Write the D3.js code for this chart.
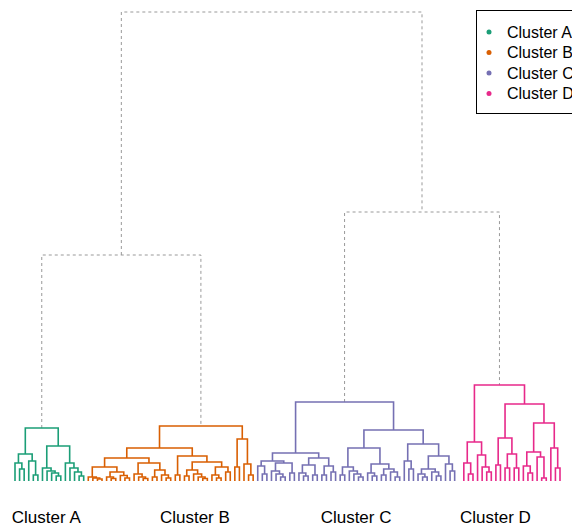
<!DOCTYPE html>
<html>
<head>
<meta charset="utf-8">
<script src="https://cdn.jsdelivr.net/npm/d3@7"></script>
<style>
  html, body { margin: 0; padding: 0; background: #fff; }
  svg { display: block; }
  text { font-family: "Liberation Sans", Arial, sans-serif; }
</style>
</head>
<body>
<svg id="chart" width="572" height="527"></svg>
<script>
// Cluster names and their colours (ColorBrewer Dark2)
const clusterNames = ["Cluster A", "Cluster B", "Cluster C", "Cluster D"];
const clusterColors = ["#1b9e77", "#d95f02", "#7570b3", "#e7298a"];

// Sub-trees of each cluster: [mergeHeight, left, right]; 0 is a leaf.
const clusterA = [5.3,
  [2.7, [1.8, 0, [1.2, 0, 0]], [2.0, 0, [0.6, 0, 0]]],
  [3.5, [1.3, 0, [1.0, 0, [0.8, 0, [0.5, 0, 0]]]],
        [1.8, 0, [1.3, 0, [0.9, 0, [0.5, 0, 0]]]]]];

const clusterB = [5.5,
  [3.3,
    [2.3,
      [1.4, [0.4, 0, [0.3, 0, [0.2, 0, 0]]],
            [0.9, [0.4, 0, [0.25, 0, 0]], [0.55, 0, [0.3, 0, 0]]]],
      [1.8, [0.7, 0, [0.4, 0, [0.25, 0, 0]]],
            [1.1, [0.4, 0, 0], [0.6, 0, [0.3, 0, 0]]]]],
    [2.5,
      [0.6, 0, 0],
      [1.9, [1.1, [0.5, 0, 0], [0.7, 0, [0.4, 0, [0.25, 0, 0]]]],
            [1.4, [0.6, 0, [0.3, 0, 0]], [0.9, 0, 0]]]]],
  [4.2, [1.4, 0, 0], [1.7, 0, [0.6, 0, 0]]]];

const clusterC = [7.9,
  [2.8,
    [2.0, [1.5, 0, [0.7, 0, 0]],
          [1.8, [1.0, 0, [0.7, 0, [0.4, 0, 0]]], [0.8, 0, 0]]],
    [2.3, [1.6, [0.8, 0, [0.5, 0, 0]], [0.6, 0, 0]],
          [1.5, [0.6, 0, 0], [0.9, 0, 0]]]],
  [5.1,
    [3.3, [1.4, [0.6, 0, 0], [1.0, 0, [0.7, 0, [0.4, 0, 0]]]],
          [1.7, [0.8, 0, [0.5, 0, 0]], [1.2, [0.6, 0, 0], [0.9, 0, [0.4, 0, 0]]]]],
    [3.7, [2.0, 0, [1.2, 0, 0]],
          [2.5, [1.2, [0.7, 0, [0.4, 0, 0]], [0.9, 0, [0.5, 0, 0]]],
                [1.7, 0, [1.0, 0, 0]]]]]];

const clusterD = [9.6,
  [3.9, [1.8, 0, [0.7, 0, 0]], [2.6, 0, [1.4, 0, [0.9, 0, 0]]]],
  [7.7,
    [4.3, [1.6, 0, 0], [2.7, [1.3, 0, 0], [1.3, 0, 0]]],
    [5.8, [2.9, [1.5, 0, [0.8, 0, 0]], [2.4, 0, [0.3, 0, 0]]],
          [3.3, 0, [1.3, 0, 0]]]]];

// Heights where the clusters join: A+B, C+D, and the top merge
const joinHeights = [22.6, 26.9, 46.9];

const clusterTrees = [clusterA, clusterB, clusterC, clusterD];

// Horizontal nudge of each cluster caption relative to its cluster's root
const labelShift = [4.5, -6, 11.5, -4];

// ---- build the hierarchy ----
function toNode(t, cluster) {
  if (t === 0) return { h: 0, cluster };
  return { h: t[0], cluster, children: [toNode(t[1], cluster), toNode(t[2], cluster)] };
}
const clusterRoots = clusterTrees.map((t, i) => toNode(t, i));
const treeData = {
  h: joinHeights[2], cluster: -1, children: [
    { h: joinHeights[0], cluster: -1, children: [clusterRoots[0], clusterRoots[1]] },
    { h: joinHeights[1], cluster: -1, children: [clusterRoots[2], clusterRoots[3]] }
  ]
};

const svg = d3.select("#chart");
const root = d3.hierarchy(treeData);

// leaf order and horizontal placement from d3.cluster (parents sit at the mean of their children);
// a wider step separates the later clusters
d3.cluster()
  .size([1, 1])
  .separation((a, b) => (a.data.cluster !== b.data.cluster && b.data.cluster >= 2) ? 2 : 1)(root);

const x = d3.scaleLinear().domain(d3.extent(root.leaves(), d => d.x)).range([15, 560]);
const y = d3.scaleLinear().domain([0, joinHeights[2]]).range([481, 12]);
root.each(d => {
  d.px = x(d.x);
  d.py = y(d.data.h);
});

// ---- elbow links ----
const inner = root.descendants().filter(d => d.children);
const elbow = d => {
  const [a, b] = d.children;
  return `M${a.px},${a.py}V${d.py}H${b.px}V${b.py}`;
};

svg.append("g")
  .selectAll("path")
  .data(inner.filter(d => d.data.cluster < 0))
  .join("path")
  .attr("d", elbow)
  .attr("fill", "none")
  .attr("stroke", "#999")
  .attr("stroke-width", 1)
  .attr("stroke-dasharray", "3,3");

svg.append("g")
  .selectAll("path")
  .data(inner.filter(d => d.data.cluster >= 0))
  .join("path")
  .attr("d", elbow)
  .attr("fill", "none")
  .attr("stroke", d => clusterColors[d.data.cluster])
  .attr("stroke-width", 1.6);

// ---- cluster labels under the leaves ----
svg.append("g")
  .selectAll("text")
  .data(root.children.flatMap(g => g.children))
  .join("text")
  .attr("x", d => d.px + labelShift[d.data.cluster])
  .attr("y", 523)
  .attr("text-anchor", "middle")
  .attr("font-size", 17)
  .attr("fill", "#000")
  .text(d => clusterNames[d.data.cluster]);

// ---- legend ----
const legend = svg.append("g").attr("transform", "translate(476.5,10.5)");
legend.append("rect")
  .attr("width", 110).attr("height", 103)
  .attr("fill", "#fff").attr("stroke", "#000").attr("stroke-width", 1);
const item = legend.selectAll("g.item")
  .data(clusterNames)
  .join("g")
  .attr("class", "item")
  .attr("transform", (d, i) => `translate(0,${21.5 + i * 20.5})`);
item.append("circle").attr("cx", 12.5).attr("r", 2.5)
  .attr("fill", (d, i) => clusterColors[i]);
item.append("text").attr("x", 30.5).attr("y", 5.5)
  .attr("font-size", 16).attr("fill", "#000")
  .text(d => d);
</script>
</body>
</html>
